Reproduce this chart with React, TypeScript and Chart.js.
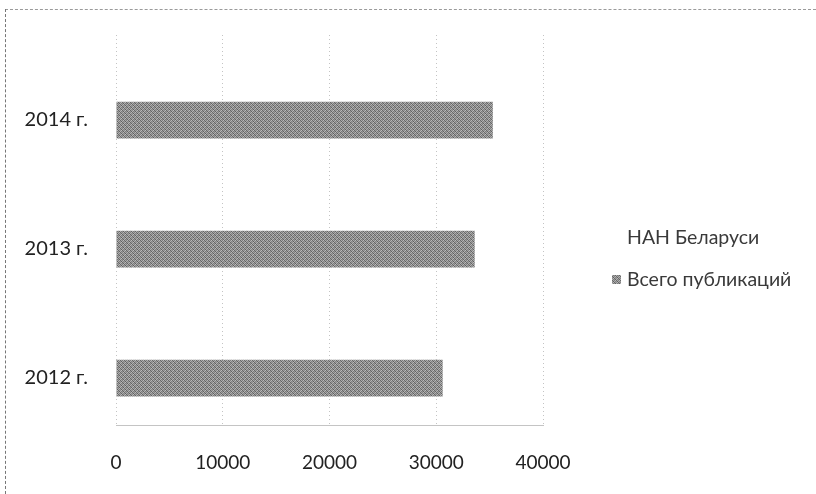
import React, { useEffect, useRef } from "react";
import { Chart, registerables } from "chart.js";

Chart.register(...registerables);

const categories = ["2014 г.", "2013 г.", "2012 г."];
const values = [35300, 33600, 30600];
const xTicks = [0, 10000, 20000, 30000, 40000];
const seriesLabel = "Всего публикаций";
const legendTitle = "НАН Беларуси";

const FONT = "Lato";

function makePattern(): CanvasPattern | string {
  const c = document.createElement("canvas");
  c.width = 4;
  c.height = 4;
  const g = c.getContext("2d");
  if (!g) return "#8c8c8c";
  const shades = [
    ["#6a6a6a", "#a8a8a8", "#7e7e7e", "#b8b8b8"],
    ["#9c9c9c", "#5e5e5e", "#b0b0b0", "#828282"],
    ["#888888", "#bcbcbc", "#666666", "#9e9e9e"],
    ["#b4b4b4", "#7a7a7a", "#989898", "#626262"],
  ];
  for (let y = 0; y < 4; y++)
    for (let x = 0; x < 4; x++) {
      g.fillStyle = shades[y][x];
      g.fillRect(x, y, 1, 1);
    }
  return g.createPattern(c, "repeat") || "#8c8c8c";
}

const legendPlugin = {
  id: "customLegend",
  afterDraw(chart: any) {
    const ctx = chart.ctx as CanvasRenderingContext2D;
    ctx.save();
    ctx.font = `19.5px ${FONT}`;
    ctx.fillStyle = "#3a3a3a";
    ctx.textBaseline = "middle";
    ctx.textAlign = "left";
    ctx.fillText(legendTitle, 627, 238);
    const ds = chart.data.datasets[0];
    ctx.fillStyle = ds.backgroundColor;
    ctx.fillRect(612, 275, 9, 9);
    ctx.fillStyle = "#3a3a3a";
    ctx.fillText(ds.label, 627, 280);
    ctx.restore();
  },
};

export default function App() {
  const ref = useRef<HTMLCanvasElement | null>(null);

  useEffect(() => {
    if (!ref.current) return;
    const pattern = makePattern();
    const chart = new Chart(ref.current, {
      type: "bar",
      data: {
        datasets: [
          {
            label: seriesLabel,
            data: values.map((v, i) => ({ x: v, y: i })),
            backgroundColor: pattern as any,
            borderWidth: 0,
            categoryPercentage: 1,
            barPercentage: 0.285,
          },
        ],
      },
      options: {
        animation: false,
        responsive: false,
        indexAxis: "y",
        layout: { padding: { top: 35, right: 273, left: 0, bottom: 0 } },
        plugins: {
          legend: { display: false },
          tooltip: { enabled: false },
        },
        scales: {
          x: {
            type: "linear",
            min: xTicks[0],
            max: xTicks[xTicks.length - 1],
            afterBuildTicks: (scale: any) => {
              scale.ticks = xTicks.map((v) => ({ value: v }));
            },
            afterFit: (scale: any) => {
              scale.height = 69;
            },
            grid: {
              color: "#c4c4c4",
              lineWidth: 1,
              drawTicks: false,
              borderDash: [1, 2],
            } as any,
            border: { display: true, color: "#c4c4c4", dash: [1, 3] },
            ticks: {
              padding: 26,
              color: "#222",
              font: { family: FONT, size: 19 },
              maxRotation: 0,
              callback: (v: any) => String(v),
            },
          },
          y: {
            type: "linear",
            reverse: true,
            offset: false,
            bounds: "data",
            min: -0.659,
            max: 2.364,
            afterDataLimits: (scale: any) => {
              scale.min = -0.659;
              scale.max = 2.364;
            },
            afterBuildTicks: (scale: any) => {
              scale.ticks = categories.map((_, i) => ({ value: i }));
            },
            afterFit: (scale: any) => {
              scale.width = 116;
            },
            grid: { display: false, offset: false },
            border: { display: false },
            ticks: {
              padding: 20,
              color: "#222",
              font: { family: FONT, size: 20 },
              callback: (v: any) => categories[v as number] ?? "",
            },
          },
        },
      },
      plugins: [legendPlugin],
    });
    return () => chart.destroy();
  }, []);

  return (
    <div style={{ position: "absolute", left: 0, top: 0, width: 816, height: 494, background: "#fff" }}>
      <canvas ref={ref} width={816} height={494} style={{ display: "block", width: 816, height: 494 }} />
      <div style={{ position: "absolute", left: 5, top: 9, width: 811, height: 0, borderTop: "1px dashed #9a9a9a" }} />
      <div style={{ position: "absolute", left: 5, top: 9, width: 0, height: 485, borderLeft: "1px dashed #777" }} />
    </div>
  );
}
